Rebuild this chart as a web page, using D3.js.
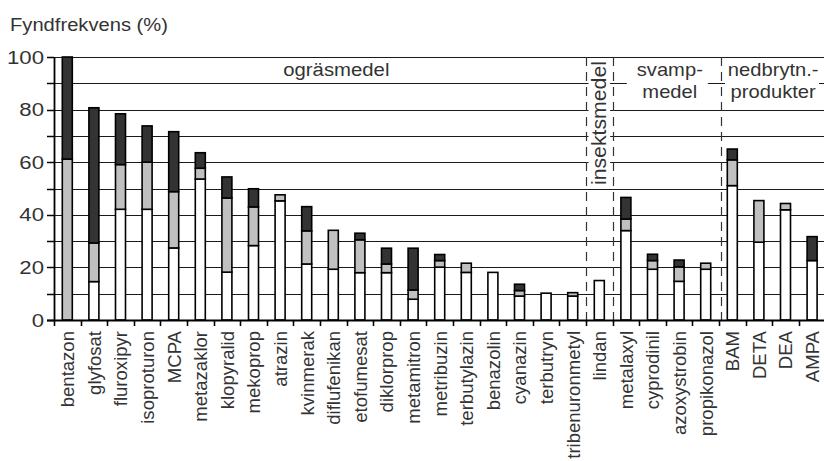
<!DOCTYPE html>
<html>
<head>
<meta charset="utf-8">
<script src="https://cdn.jsdelivr.net/npm/d3@7"></script>
<style>
  html, body { margin: 0; padding: 0; background: #fff; }
  svg { display: block; }
  text { font-family: "Liberation Sans", Arial, sans-serif; fill: #333; }
</style>
</head>
<body>
<svg id="chart" width="824" height="461"></svg>
<script>
// ---- data ----
const categories = ["bentazon","glyfosat","fluroxipyr","isoproturon","MCPA","metazaklor","klopyralid","mekoprop","atrazin","kvinmerak","diflufenikan","etofumesat","diklorprop","metamitron","metribuzin","terbutylazin","benazolin","cyanazin","terbutryn","tribenuronmetyl","lindan","metalaxyl","cyprodinil","azoxystrobin","propikonazol","BAM","DETA","DEA","AMPA"];
// segment heights (percent), bottom to top
const whiteVals = [0,14.6,42.1,42.1,27.4,53.6,18.2,28.3,45.3,21.3,19.3,18.0,18.0,7.9,20.1,18.1,18.1,9.1,10.2,9.1,15.0,34.0,19.3,14.7,19.3,51.1,29.6,41.9,22.6];
const grayVals  = [61.2,14.7,17.0,17.9,21.4,4.1,28.2,14.7,2.3,12.6,14.8,12.5,3.3,3.5,2.5,3.5,0,2.1,0,1.3,0,4.4,3.3,5.5,2.3,9.8,15.8,2.4,0];
const darkVals  = [38.8,51.4,19.3,13.8,22.8,5.9,8.0,6.9,0,9.2,0,2.5,6.0,15.9,2.3,0,0,2.4,0,0,0,8.2,2.4,2.6,0,4.1,0,0,9.1];
const yTickLabels = [0,20,40,60,80,100];
const yTicksAll = [0,10,20,30,40,50,60,70,80,90,100];
const groupNames = [["ogräsmedel"],["insektsmedel"],["svamp-","medel"],["nedbrytn.-","produkter"]];
const groupStart = ["bentazon","lindan","metalaxyl","BAM"];
const groupEnd   = ["tribenuronmetyl","lindan","propikonazol","AMPA"];
const segColors = ["#ffffff","#c0c0c0","#333333"];
const yTitle = "Fyndfrekvens (%)";

// ---- scales ----
const svg = d3.select("#chart");
const x = d3.scaleBand().domain(categories).range([54, 825.4]).paddingInner(0.624).paddingOuter(0.312);
const y = d3.scaleLinear().domain([0, 100]).range([320, 57]);
const step = x.step();
const bandStart = c => x(c) - x.paddingOuter() * step;

// ---- gridlines ----
svg.append("g").selectAll("line").data(yTicksAll.filter(d => d > 0)).join("line")
  .attr("x1", 54).attr("x2", 824)
  .attr("y1", d => Math.round(y(d)) + 0.5).attr("y2", d => Math.round(y(d)) + 0.5)
  .attr("stroke", "#1a1a1a").attr("stroke-width", 1);

// ---- group label backgrounds (cover gridlines) ----
const groups = groupNames.map((n, i) => {
  const x0 = bandStart(groupStart[i]);
  const x1 = bandStart(groupEnd[i]) + step;
  return { lines: n, x0, x1, cx: (x0 + x1) / 2 };
});
// insektsmedel background
svg.append("rect").attr("x", groups[1].x0 + 2.5).attr("y", y(100) + 2).attr("width", step - 5).attr("height", y(50) - y(100) - 4).attr("fill", "#fff");
// svamp / nedbrytn backgrounds
svg.append("rect").attr("x", groups[2].cx - 39).attr("y", y(100) + 2).attr("width", 81).attr("height", y(82) - y(100)).attr("fill", "#fff");
svg.append("rect").attr("x", groups[3].x0 + 6).attr("y", y(100) + 2).attr("width", 94).attr("height", y(82) - y(100)).attr("fill", "#fff");

// ---- dashed separators ----
const seps = [bandStart("lindan"), bandStart("metalaxyl"), bandStart("BAM") + 2];
svg.append("g").selectAll("line").data(seps).join("line")
  .attr("x1", d => Math.round(d) + 0.5).attr("x2", d => Math.round(d) + 0.5)
  .attr("y1", y(100)).attr("y2", y(0))
  .attr("stroke", "#333").attr("stroke-width", 1.2).attr("stroke-dasharray", "9,6");

// ---- bars ----
const series = [whiteVals, grayVals, darkVals];
const segs = [];
categories.forEach((c, i) => {
  let base = 0;
  series.forEach((s, k) => {
    const v = s[i];
    if (v > 0) segs.push({ c, y0: base, y1: base + v, k });
    base += v;
  });
});
svg.append("g").selectAll("rect").data(segs).join("rect")
  .attr("x", d => x(d.c)).attr("width", x.bandwidth())
  .attr("y", d => y(d.y1)).attr("height", d => y(d.y0) - y(d.y1))
  .attr("fill", d => segColors[d.k])
  .attr("stroke", "#000").attr("stroke-width", 1.6);

// ---- axes ----
// y axis ticks
svg.append("g").selectAll("line").data(yTicksAll).join("line")
  .attr("x1", 47).attr("x2", 54)
  .attr("y1", d => Math.round(y(d)) + 0.5).attr("y2", d => Math.round(y(d)) + 0.5)
  .attr("stroke", "#000").attr("stroke-width", 1.5);
svg.append("line").attr("x1", 54.5).attr("x2", 54.5).attr("y1", y(100)).attr("y2", y(0) + 1)
  .attr("stroke", "#000").attr("stroke-width", 1.8);
// x axis
svg.append("line").attr("x1", 47).attr("x2", 824).attr("y1", y(0) + 0.5).attr("y2", y(0) + 0.5)
  .attr("stroke", "#000").attr("stroke-width", 2.2);
svg.append("g").selectAll("line").data(categories).join("line")
  .attr("x1", d => Math.round(bandStart(d)) + 0.5).attr("x2", d => Math.round(bandStart(d)) + 0.5)
  .attr("y1", y(0)).attr("y2", y(0) + 6)
  .attr("stroke", "#000").attr("stroke-width", 1.6);

// y tick labels
svg.append("g").selectAll("text").data(yTickLabels).join("text")
  .attr("transform", d => `translate(44,${y(d)}) scale(1.2,1)`)
  .attr("text-anchor", "end").attr("dy", "0.36em")
  .style("font-size", "18.5px").text(d => d);

// x labels
svg.append("g").selectAll("text").data(categories).join("text")
  .attr("transform", d => `translate(${x(d) + x.bandwidth() / 2},331) rotate(-90) scale(1.03,1.05)`)
  .attr("text-anchor", "end").attr("dy", "0.36em")
  .style("font-size", "18px").text(d => d);

// y title
svg.append("text").attr("transform", "translate(10,31) scale(1.09,1)")
  .style("font-size", "18.5px").text(yTitle);

// group labels
svg.append("text").attr("transform", `translate(${x("diflufenikan") + x.bandwidth() / 2 + 3},76) scale(1.13,1)`)
  .attr("text-anchor", "middle").style("font-size", "18px").text(groups[0].lines[0]);
svg.append("text").attr("transform", `translate(${groups[1].cx},${y(100) + 4}) rotate(-90) scale(1.12,1.05)`)
  .attr("text-anchor", "end").attr("dy", "0.36em").style("font-size", "19px").text(groups[1].lines[0]);
[2, 3].forEach((gi, j) => {
  const cx = j === 0 ? groups[gi].cx + 4 : groups[gi].cx + 1;
  groups[gi].lines.forEach((t, li) => {
    svg.append("text").attr("transform", `translate(${cx},${76 + li * 22}) scale(1.12,1)`)
      .attr("text-anchor", "middle").style("font-size", "18px").text(t);
  });
});
</script>
</body>
</html>
